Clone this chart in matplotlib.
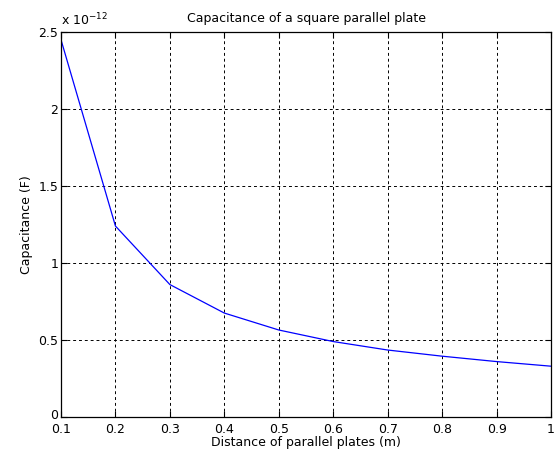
import matplotlib
matplotlib.use('Agg')
import matplotlib.pyplot as plt
import matplotlib.transforms as mtransforms

# distancia (m) y capacitancia (F)
distancia = [0.1, 0.2, 0.3, 0.4, 0.5, 0.6, 0.7, 0.8, 0.9, 1.0]
capacitancia = [2.45e-12, 1.24e-12, 0.86e-12, 0.675e-12, 0.565e-12,
                0.49e-12, 0.435e-12, 0.395e-12, 0.36e-12, 0.33e-12]
xticks = [0.1, 0.2, 0.3, 0.4, 0.5, 0.6, 0.7, 0.8, 0.9, 1.0]
xlabels = ['0.1', '0.2', '0.3', '0.4', '0.5', '0.6', '0.7', '0.8', '0.9', '1']
yticks = [0, 0.5e-12, 1e-12, 1.5e-12, 2e-12, 2.5e-12]
ylabels = ['0', '0.5', '1', '1.5', '2', '2.5']

plt.rcParams['font.family'] = ['DejaVu Sans']
plt.rcParams['font.size'] = 9

fig = plt.figure(figsize=(5.58, 4.61), dpi=100)
ax = fig.add_axes([0.1093, 0.0954, 0.8782, 0.8352])
ax.plot(distancia, capacitancia, color='blue', linewidth=0.9)

ax.set_xlim(0.1, 1.0)
ax.set_ylim(0, 2.5e-12)
ax.set_xticks(xticks)
ax.set_xticklabels(xlabels)
ax.set_yticks(yticks)
ax.set_yticklabels(ylabels)
ax.tick_params(direction='in', length=4, width=0.8, top=True, right=True, pad=2)
ax.tick_params(axis='x', pad=4.5)
ax.grid(True, color='black', linestyle=(0, (3, 3)), linewidth=0.7)
for s in ax.spines.values():
    s.set_linewidth(0.9)

# subir un poco el "0" para que no choque con "0.1"
etiqueta_cero = ax.get_yticklabels()[0]
etiqueta_cero.set_transform(etiqueta_cero.get_transform() +
                            mtransforms.ScaledTranslation(0, 2 / 72, fig.dpi_scale_trans))

ax.text(0.0, 1.01, r'x 10$^{-12}$', transform=ax.transAxes, ha='left', va='bottom', fontsize=9)
ax.set_title('Capacitance of a square parallel plate', fontsize=9, pad=7)
ax.set_xlabel('Distance of parallel plates (m)', labelpad=0)
ax.set_ylabel('Capacitance (F)', labelpad=4)

fig.savefig('out.png', dpi=100)
